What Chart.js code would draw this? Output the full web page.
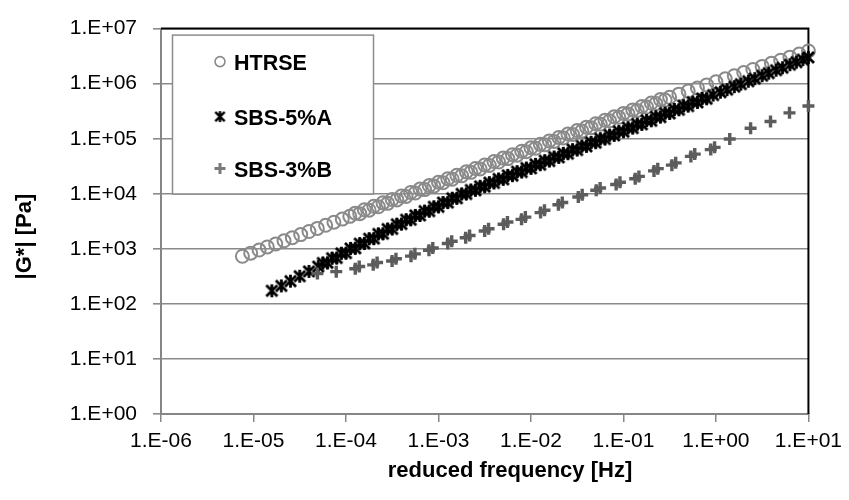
<!DOCTYPE html>
<html><head><meta charset="utf-8">
<script src="https://cdn.jsdelivr.net/npm/chart.js@4.4.1/dist/chart.umd.min.js"></script>
<style>html,body{margin:0;padding:0;background:#fff;}canvas{display:block;}</style>
</head><body>
<canvas id="c" width="849" height="500"></canvas>
<script>
// ---------- data ----------
const seriesLabels = ['HTRSE', 'SBS-5%A', 'SBS-3%B'];
const xTickValues = [1e-6, 1e-5, 1e-4, 1e-3, 1e-2, 1e-1, 1e0, 1e1];
const xTickLabels = ['1.E-06', '1.E-05', '1.E-04', '1.E-03', '1.E-02', '1.E-01', '1.E+00', '1.E+01'];
const yTickValues = [1e0, 1e1, 1e2, 1e3, 1e4, 1e5, 1e6, 1e7];
const yTickLabels = ['1.E+00', '1.E+01', '1.E+02', '1.E+03', '1.E+04', '1.E+05', '1.E+06', '1.E+07'];
const xTitle = 'reduced frequency [Hz]';
const yTitle = '|G*| [Pa]';

const htrseFreq = [7.59e-6, 9.33e-6, 1.15e-5, 1.41e-5, 1.74e-5, 2.14e-5, 2.63e-5, 3.24e-5, 3.98e-5, 4.90e-5, 6.03e-5, 7.41e-5, 9.12e-5, 1.10e-4,
  1.26e-4, 1.41e-4, 1.58e-4, 1.78e-4, 2.00e-4, 2.24e-4, 2.51e-4, 2.82e-4, 3.16e-4, 3.55e-4, 3.98e-4, 4.47e-4, 5.01e-4, 5.62e-4, 6.31e-4, 7.08e-4, 7.94e-4, 8.91e-4,
  1.00e-3, 1.12e-3, 1.26e-3, 1.41e-3, 1.58e-3, 1.78e-3, 2.00e-3, 2.24e-3, 2.51e-3, 2.82e-3, 3.16e-3, 3.55e-3, 3.98e-3, 4.47e-3, 5.01e-3, 5.62e-3, 6.31e-3, 7.08e-3, 7.94e-3, 8.91e-3,
  1.00e-2, 1.12e-2, 1.26e-2, 1.41e-2, 1.58e-2, 1.78e-2, 2.00e-2, 2.24e-2, 2.51e-2, 2.82e-2, 3.16e-2, 3.55e-2, 3.98e-2, 4.47e-2, 5.01e-2, 5.62e-2, 6.31e-2, 7.08e-2, 7.94e-2, 8.91e-2,
  0.100, 0.112, 0.126, 0.141, 0.158, 0.178, 0.200, 0.224, 0.251, 0.282, 0.316,
  0.398, 0.501, 0.631, 0.794, 1.00, 1.26, 1.58, 2.00, 2.51, 3.16, 3.98, 5.01, 6.31, 7.94, 10.0];
const htrseG = [733, 834, 951, 1081, 1230, 1400, 1596, 1815, 2065, 2350, 2679, 3048, 3467, 3890,
  4446, 4355, 5129, 5023, 5929, 5808, 6839, 6699, 7900, 7745, 9120, 8933, 10540, 10330, 12160, 11910, 14060, 13770,
  16220, 15890, 18750, 18370, 21630, 21180, 24990, 24490, 28840, 28250, 33340, 32660, 38460, 37670, 44460, 43550, 51290, 50230, 59290, 58080,
  68390, 66990, 79000, 77450, 91200, 89330, 105400, 103300, 121600, 119100, 140600, 137700, 162200, 158900, 187500, 183700, 216300, 211800, 249900, 244900,
  288400, 282500, 333400, 326600, 384600, 376700, 444600, 435500, 512900, 502300, 566200,
  644200, 732800, 833700, 948400, 1.079e6, 1.227e6, 1.396e6, 1.589e6, 1.807e6, 2.056e6, 2.339e6, 2.661e6, 3.027e6, 3.443e6, 3.917e6];

const sbs5Freq = [1.58e-5, 2.00e-5, 2.51e-5, 3.16e-5, 3.98e-5, 5.01e-5,
  5.62e-5, 6.31e-5, 7.08e-5, 7.94e-5, 8.91e-5,
  1.00e-4, 1.12e-4, 1.26e-4, 1.41e-4, 1.58e-4, 1.78e-4, 2.00e-4, 2.24e-4, 2.51e-4, 2.82e-4, 3.16e-4, 3.55e-4, 3.98e-4, 4.47e-4, 5.01e-4, 5.62e-4, 6.31e-4, 7.08e-4, 7.94e-4, 8.91e-4,
  1.00e-3, 1.12e-3, 1.26e-3, 1.41e-3, 1.58e-3, 1.78e-3, 2.00e-3, 2.24e-3, 2.51e-3, 2.82e-3, 3.16e-3, 3.55e-3, 3.98e-3, 4.47e-3, 5.01e-3, 5.62e-3, 6.31e-3, 7.08e-3, 7.94e-3, 8.91e-3,
  1.00e-2, 1.12e-2, 1.26e-2, 1.41e-2, 1.58e-2, 1.78e-2, 2.00e-2, 2.24e-2, 2.51e-2, 2.82e-2, 3.16e-2, 3.55e-2, 3.98e-2, 4.47e-2, 5.01e-2, 5.62e-2, 6.31e-2, 7.08e-2, 7.94e-2, 8.91e-2,
  0.100, 0.112, 0.126, 0.141, 0.158, 0.178, 0.200, 0.224, 0.251, 0.282, 0.316, 0.355, 0.398, 0.447, 0.501, 0.562, 0.631, 0.708, 0.794,
  0.933, 1.12, 1.32, 1.58, 1.86, 2.24, 2.63, 3.16, 3.72, 4.47, 5.25, 6.31, 7.41, 8.71, 10.0];
const sbs5G = [173, 212, 259, 318, 389, 476,
  552, 557, 676, 682, 828,
  836, 1014, 1023, 1242, 1253, 1521, 1535, 1862, 1879, 2280, 2301, 2793, 2818, 3381, 3373, 4046, 4036, 4842, 4831, 5794,
  5781, 6934, 6918, 8299, 8279, 9931, 9908, 11720, 11560, 13680, 13460, 15920, 15700, 18580, 18280, 21630, 21330, 25230, 24830, 29380,
  28970, 34280, 33730, 39900, 39360, 46560, 45810, 54200, 53460, 63240, 62230, 73620, 72610, 85900, 84530, 100000, 98620, 116700, 114800, 135800,
  134000, 158500, 156000, 184500, 182000, 215300, 211800, 250600, 247200, 292400, 287700, 340400, 335700, 397200, 390800, 462400, 456000, 539500, 530900,
  619400, 699800, 778000, 881000, 979500, 1.107e6, 1.233e6, 1.393e6, 1.552e6, 1.754e6, 1.950e6, 2.208e6, 2.455e6, 2.735e6, 2.999e6];

const sbs3Freq = [4.91e-5, 7.85e-5, 1.26e-4, 1.97e-4, 3.15e-4, 5.05e-4, 7.89e-4, 1.26e-3, 1.97e-3, 3.16e-3, 5.06e-3, 7.91e-3, 1.27e-2, 1.98e-2,
  3.25e-2, 5.08e-2, 8.34e-2, 0.134, 0.214, 0.334, 0.536, 0.879, 1.41, 2.37, 3.89, 6.24, 10.0];
const sbs3G = [355, 385, 435, 512, 601, 736, 940, 1250, 1590, 2110, 2800, 3430, 4550, 6300,
  8710, 11560, 14720, 18790, 26000, 33110, 47750, 63390, 98850, 154500, 205100, 295100, 391700];
const sbs3FreqB = [1.39e-4, 2.17e-4, 3.47e-4, 5.56e-4, 8.68e-4, 1.39e-3, 2.17e-3, 3.48e-3, 5.57e-3, 8.70e-3, 1.40e-2, 2.18e-2,
  3.58e-2, 5.59e-2, 9.17e-2, 0.147, 0.235, 0.367, 0.590, 0.967];
const sbs3GB = [479, 563, 661, 810, 1034, 1375, 1749, 2321, 3080, 3773, 5005, 6930,
  9581, 12716, 16192, 20669, 28600, 36421, 52525, 69729];

// ---------- styling ----------
const FONT = "'Liberation Sans', Arial, Helvetica, sans-serif";
const colHT = '#8a8a8a', col5 = '#000000', col3 = '#5c5c5c';

function toPoints(xs, ys) { return xs.map((x, i) => ({ x: x, y: ys[i] })); }

function makeAsterisk(size, lw, color) {
  const c = document.createElement('canvas');
  c.width = size; c.height = size;
  const g = c.getContext('2d');
  g.strokeStyle = color; g.lineWidth = lw;
  const m = size / 2, r = size / 2 - 1, d = r * 0.85;
  g.beginPath();
  g.moveTo(m - d, m - d); g.lineTo(m + d, m + d);
  g.moveTo(m + d, m - d); g.lineTo(m - d, m + d);
  g.moveTo(m, m - r); g.lineTo(m, m + r);
  g.stroke();
  return c;
}
const asterisk = makeAsterisk(15, 2.8, col5);
const asteriskSmall = makeAsterisk(13, 2.4, col5);

const framePlugin = {
  id: 'frame',
  beforeDatasetsDraw(chart) {
    const { ctx, chartArea: a } = chart;
    ctx.save();
    ctx.strokeStyle = '#000'; ctx.lineWidth = 2;
    ctx.beginPath();
    ctx.moveTo(a.left, a.top); ctx.lineTo(a.right, a.top); ctx.lineTo(a.right, a.bottom);
    ctx.stroke();
    ctx.restore();
  }
};

const titlePlugin = {
  id: 'axisTitles',
  afterDraw(chart) {
    const { ctx, chartArea: a } = chart;
    ctx.save();
    ctx.fillStyle = '#000';
    ctx.font = 'bold 22px ' + FONT;
    ctx.textAlign = 'center'; ctx.textBaseline = 'alphabetic';
    ctx.fillText(xTitle, a.left + 349, a.bottom + 63);
    ctx.translate(a.left - 130, a.top + 208);
    ctx.rotate(-Math.PI / 2);
    ctx.fillText(yTitle, 0, 0);
    ctx.restore();
  }
};

const legendPlugin = {
  id: 'boxLegend',
  afterDatasetsDraw(chart) {
    const { ctx, chartArea: a } = chart;
    const L = a.left + 11, T = a.top + 6, W = 201, H = 159;
    ctx.save();
    ctx.fillStyle = '#fff'; ctx.fillRect(L, T, W, H);
    ctx.strokeStyle = '#8c8c8c'; ctx.lineWidth = 1.5;
    ctx.strokeRect(L + 0.5, T + 0.5, W, H);
    const rows = [27, 82, 134];
    chart.data.datasets.forEach((ds, i) => {
      const cy = T + rows[i], mx = L + 48;
      if (i === 0) {
        ctx.strokeStyle = colHT; ctx.lineWidth = 1.6;
        ctx.beginPath(); ctx.arc(mx, cy, 5, 0, Math.PI * 2); ctx.stroke();
      } else if (i === 1) {
        ctx.drawImage(asteriskSmall, mx - 6.5, cy - 6.5);
      } else {
        ctx.strokeStyle = '#7a7a7a'; ctx.lineWidth = 3;
        ctx.beginPath(); ctx.moveTo(mx - 5.5, cy); ctx.lineTo(mx + 5.5, cy);
        ctx.moveTo(mx, cy - 5.5); ctx.lineTo(mx, cy + 5.5); ctx.stroke();
      }
      ctx.fillStyle = '#000';
      ctx.font = 'bold 21.5px ' + FONT;
      ctx.textAlign = 'left'; ctx.textBaseline = 'alphabetic';
      ctx.fillText(ds.label, L + 62, cy + 8.5);
    });
    ctx.restore();
  }
};

new Chart(document.getElementById('c'), {
  type: 'scatter',
  data: {
    datasets: [
      { label: seriesLabels[0], data: toPoints(htrseFreq, htrseG), order: 3, clip: false,
        pointStyle: 'circle', pointRadius: 6.5, pointBorderWidth: 2,
        pointBorderColor: colHT, pointBackgroundColor: 'rgba(0,0,0,0)' },
      { label: seriesLabels[1], data: toPoints(sbs5Freq, sbs5G), order: 2, clip: false,
        pointStyle: asterisk, pointRadius: 7, pointBorderColor: col5, pointBackgroundColor: col5 },
      { label: seriesLabels[2], data: toPoints(sbs3Freq, sbs3G).concat(toPoints(sbs3FreqB, sbs3GB)), order: 1, clip: false,
        pointStyle: 'cross', pointRadius: 6, pointBorderWidth: 3.4,
        pointBorderColor: col3, pointBackgroundColor: col3 }
    ]
  },
  options: {
    responsive: false, animation: false, devicePixelRatio: 1,
    layout: { autoPadding: false, padding: { top: 16, right: 38, left: 0, bottom: 0 } },
    plugins: { legend: { display: false }, tooltip: { enabled: false } },
    scales: {
      x: {
        type: 'logarithmic', position: 'bottom', min: 1e-6, max: 10,
        afterBuildTicks: (s) => { s.ticks = xTickValues.map(v => ({ value: v })); },
        afterFit: (s) => { s.height = 86; },
        ticks: { autoSkip: false, maxRotation: 0, minRotation: 0, padding: 7, color: '#000',
          font: { family: FONT, size: 21 }, callback: (v, i) => xTickLabels[i] },
        grid: { drawOnChartArea: false, drawTicks: true, tickLength: 8, color: '#868686', lineWidth: 1.5 },
        border: { display: true, color: '#868686', width: 2 }
      },
      y: {
        type: 'logarithmic', position: 'left', min: 1, max: 1e7,
        afterBuildTicks: (s) => { s.ticks = yTickValues.map(v => ({ value: v })); },
        afterFit: (s) => { s.width = 161; },
        ticks: { autoSkip: false, padding: 16, color: '#000',
          font: { family: FONT, size: 21 }, callback: (v, i) => yTickLabels[i] },
        grid: { drawOnChartArea: true, drawTicks: true, tickLength: 8, color: '#8a8a8a', lineWidth: 1.6 },
        border: { display: true, color: '#868686', width: 2 }
      }
    }
  },
  plugins: [framePlugin, legendPlugin, titlePlugin]
});
</script>
</body></html>
